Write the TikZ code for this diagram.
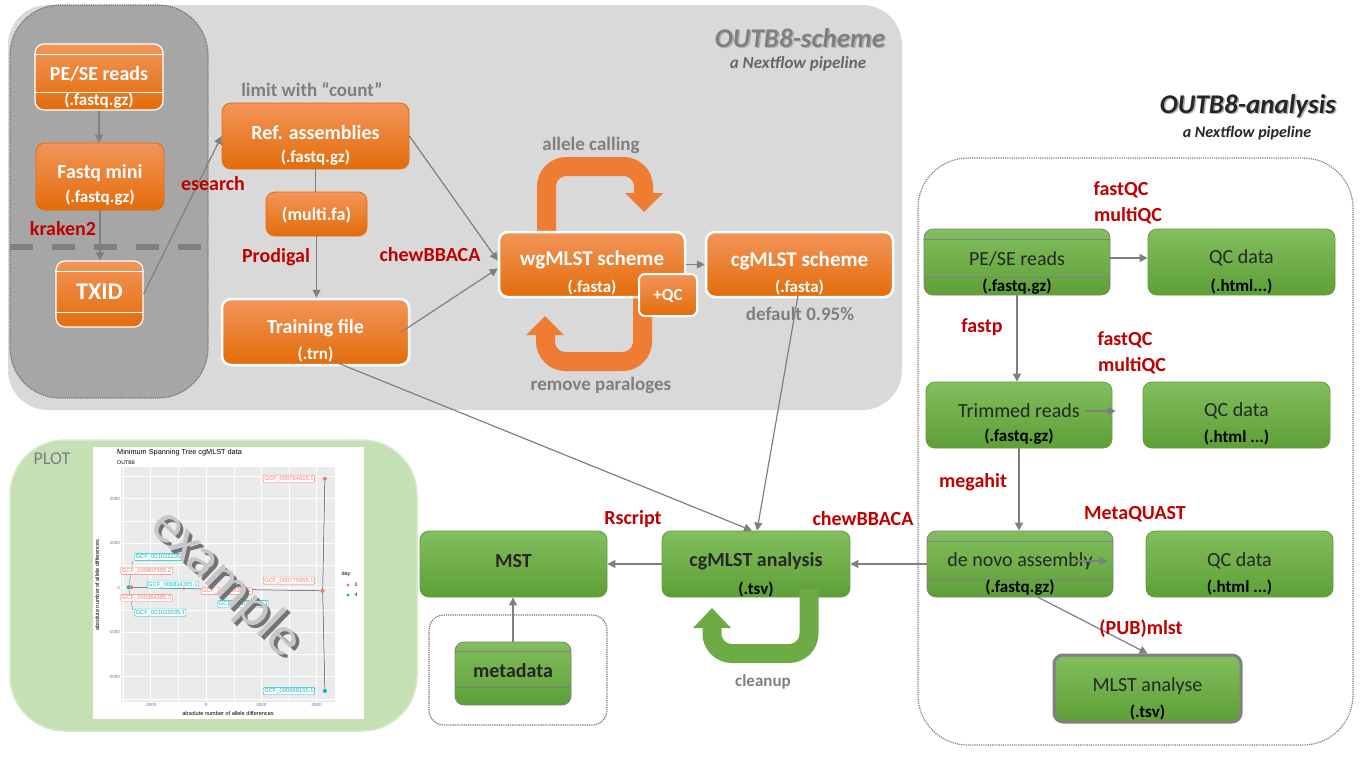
\documentclass[tikz,border=0pt]{standalone}
\usepackage{fontspec}
\setmainfont{Carlito}
\newfontfamily\ggfont{Liberation Sans}
\usetikzlibrary{arrows.meta}
\definecolor{orangetop}{HTML}{F2955A}
\definecolor{orangebot}{HTML}{E46C0A}
\definecolor{loopor}{HTML}{EE7D33}
\definecolor{greentop}{HTML}{82BE5E}
\definecolor{greenbot}{HTML}{5E9F36}
\definecolor{loopgr}{HTML}{6EAB45}
\definecolor{redlbl}{HTML}{C00000}
\definecolor{greylbl}{HTML}{7F7F7F}
\definecolor{panelgrey}{HTML}{D9D9D9}
\definecolor{darkpanel}{HTML}{A6A6A6}
\definecolor{plotgreen}{HTML}{C5E0B4}
\definecolor{ggpanel}{HTML}{EBEBEB}
\definecolor{ggred}{HTML}{F8766D}
\definecolor{ggteal}{HTML}{00BFC4}
\def\fs#1{\fontsize{#1}{#1}\selectfont}
\def\uturn[#1](#2)(#3)(#4)(#5){\draw[#1, line width=19pt, rounded corners=20pt] (#2) -- (#3) -- (#4) -- (#5);}

\tikzset{
	obox/.style={rectangle, rounded corners=9pt, top color=orangetop, bottom color=orangebot, draw=orangebot, line width=0.8pt},
	gbox/.style={rectangle, rounded corners=9pt, top color=greentop, bottom color=greenbot, draw=greenbot, line width=0.8pt},
	otxt/.style={text=white, font=\bfseries\fs{20}, inner sep=0pt},
	osub/.style={text=white, font=\bfseries\fs{17}, inner sep=0pt},
	gtxt/.style={text=black!85, font=\fs{20}, inner sep=0pt},
	gsub/.style={text=black, font=\bfseries\fs{17}, inner sep=0pt},
	tool/.style={text=redlbl, font=\bfseries\fs{20}, inner sep=0pt},
	note/.style={text=greylbl, font=\bfseries\fs{19}, inner sep=0pt},
	conn/.style={draw=greylbl, line width=1.2pt, -{Triangle[width=8pt,length=8pt]}},
	link/.style={draw=greylbl, line width=1.2pt},
	gglbl/.style={fill=white, draw, rounded corners=1pt, font=\ggfont\fs{5.8}, inner sep=1pt},
	ggtick/.style={text=black!55, font=\ggfont\fs{4.5}, inner sep=1pt}
}

\begin{document}
\begin{tikzpicture}[x=1pt, y=-1pt]
			%%%%% START %%%%%
			\useasboundingbox (0,0) rectangle (1361,756);
			
			\draw[fill=panelgrey, draw=none, rounded corners=40pt] (8,5) rectangle (902,410);
			\draw[fill=darkpanel, draw=black!55, densely dotted, line width=1.2pt, rounded corners=50pt] (10,5) rectangle (208,398);
			\draw[line width=6pt, color=greylbl, dash pattern=on 23pt off 19pt] (10,247) -- (202,247);
			\draw[fill=white, draw=black!50, densely dotted, line width=1.2pt, rounded corners=50pt] (918,158) rectangle (1353,745);
			\draw[fill=plotgreen, draw=plotgreen!70!white, line width=1.5pt, rounded corners=55pt] (10,440) rectangle (417,731);
			\draw[fill=white, draw=black!55, densely dotted, line width=1.2pt, rounded corners=15pt] (429,615) rectangle (607,725);
			
			\node[text=black!30, font=\bfseries\itshape\fs{27}] (sch-sh) at (801.5,39.5) {OUTB8-scheme};
			\node[text=greylbl, font=\bfseries\itshape\fs{27}] (sch) at (800,38) {OUTB8-scheme};
			\node[text=black!60, font=\bfseries\itshape\fs{17}] (sch-sub) at (798,64) {a Nextflow pipeline};
			\node[text=black!30, font=\bfseries\itshape\fs{27}] (ana-sh) at (1249.5,107.5) {OUTB8-analysis};
			\node[text=black!85, font=\bfseries\itshape\fs{27}] (ana) at (1248,106) {OUTB8-analysis};
			\node[text=black!85, font=\bfseries\itshape\fs{16}] (ana-sub) at (1247,133) {a Nextflow pipeline};
			
			% loops round the scheme
			\uturn[color=loopor](546.5,232)(546.5,166.5)(643.5,166.5)(643.5,194)
			\fill[loopor] (625,193) -- (663,193) -- (644,212) -- cycle;
			\uturn[color=loopor](642.5,297)(642.5,361.5)(545.5,361.5)(545.5,335)
			\fill[loopor] (526,335) -- (564,335) -- (545,316) -- cycle;
			
			% orange boxes
			\node[obox, draw=white, line width=1.2pt, minimum width=128, minimum height=66] (pese) at (99,77) {};
			\draw[white, line width=1pt] ([yshift=-11]pese.north west) -- ([yshift=-11]pese.north east);
			\draw[white, line width=1pt] ([yshift=18]pese.south west) -- ([yshift=18]pese.south east);
			\node[otxt] (pese-t) at (99,74) {PE/SE reads};
			\node[osub] (pese-s) at (99,101) {(.fastq.gz)};
			
			\node[obox, minimum width=128, minimum height=67] (fqmini) at (100,176.5) {};
			\node[otxt] (fqmini-t) at (100,173) {Fastq mini};
			\node[osub] (fqmini-s) at (100,198) {(.fastq.gz)};
			
			\node[obox, draw=white, line width=1.2pt, minimum width=87, minimum height=66] (txid) at (99.5,294) {};
			\draw[white, line width=1pt] ([yshift=-11]txid.north west) -- ([yshift=-11]txid.north east);
			\draw[white, line width=1pt] ([yshift=15]txid.south west) -- ([yshift=15]txid.south east);
			\node[otxt, font=\bfseries\fs{24}] (txid-t) at (99.5,292) {TXID};
			
			\node[obox, minimum width=187, minimum height=66] (ref) at (315.5,136) {};
			\node[otxt] (ref-t) at (315.5,133) {Ref. assemblies};
			\node[osub] (ref-s) at (315.5,158) {(.fastq.gz)};
			
			\node[obox, minimum width=101, minimum height=44] (multi) at (316.5,214) {};
			\node[osub, font=\bfseries\fs{18}] (multi-t) at (316.5,215) {(multi.fa)};
			
			\node[obox, draw=white, line width=2.5pt, minimum width=187, minimum height=66] (train) at (315.5,332) {};
			\node[otxt] (train-t) at (315.5,328) {Training file};
			\node[osub] (train-s) at (315.5,354) {(.trn)};
			
			\node[obox, draw=white, line width=2.5pt, minimum width=186, minimum height=65] (wg) at (592,264.5) {};
			\node[otxt, font=\bfseries\fs{21}] (wg-t) at (592,260) {wgMLST scheme};
			\node[osub] (wg-s) at (592,287) {(.fasta)};
			
			\node[obox, draw=white, line width=2pt, rounded corners=6pt, minimum width=58, minimum height=42] (qc) at (668,295) {};
			\node[osub] (qc-t) at (668,296) {+QC};
			
			\node[obox, draw=white, line width=2.5pt, minimum width=187, minimum height=65] (cgs) at (799.5,264.5) {};
			\node[otxt, font=\bfseries\fs{21}] (cgs-t) at (799.5,261) {cgMLST scheme};
			\node[osub] (cgs-s) at (799.5,287) {(.fasta)};
			
			% green boxes
			\node[gbox, draw=black!50, minimum width=186, minimum height=66] (rpese) at (1017,262) {};
			\draw[black!50, line width=0.8pt] ([yshift=-11]rpese.north west) -- ([yshift=-11]rpese.north east);
			\draw[black!50, line width=0.8pt] ([yshift=18]rpese.south west) -- ([yshift=18]rpese.south east);
			\node[gtxt] (rpese-t) at (1017,259) {PE/SE reads};
			\node[gsub] (rpese-s) at (1017,287) {(.fastq.gz)};
			
			\node[gbox, minimum width=187, minimum height=66] (qc1) at (1241.5,262) {};
			\node[gtxt] (qc1-t) at (1241.5,258) {QC data};
			\node[gsub] (qc1-s) at (1241.5,286) {(.html...)};
			
			\node[gbox, minimum width=186, minimum height=66] (trim) at (1019,415) {};
			\node[gtxt] (trim-t) at (1019,411) {Trimmed reads};
			\node[gsub] (trim-s) at (1019,437) {(.fastq.gz)};
			
			\node[gbox, minimum width=187, minimum height=66] (qc2) at (1236.5,415) {};
			\node[gtxt] (qc2-t) at (1236.5,411) {QC data};
			\node[gsub] (qc2-s) at (1236.5,437) {(.html ...)};
			
			\node[gbox, draw=black!50, minimum width=186, minimum height=66] (denovo) at (1020,564) {};
			\draw[black!50, line width=0.8pt] ([yshift=-11]denovo.north west) -- ([yshift=-11]denovo.north east);
			\draw[black!50, line width=0.8pt] ([yshift=18]denovo.south west) -- ([yshift=18]denovo.south east);
			\node[gtxt] (denovo-t) at (1020,561) {de novo assembly};
			\node[gsub] (denovo-s) at (1020,588) {(.fastq.gz)};
			
			\node[gbox, minimum width=187, minimum height=66] (qc3) at (1239.5,564) {};
			\node[gtxt] (qc3-t) at (1239.5,561) {QC data};
			\node[gsub] (qc3-s) at (1239.5,587) {(.html ...)};
			
			\node[gbox, draw=black!50, line width=3pt, minimum width=187, minimum height=67] (mlst) at (1147.5,688.5) {};
			\node[gtxt] (mlst-t) at (1147.5,686) {MLST analyse};
			\node[gsub] (mlst-s) at (1147.5,712) {(.tsv)};
			
			\node[gbox, minimum width=188, minimum height=66] (cganal) at (756,564) {};
			\node[gtxt, font=\bfseries\fs{20}] (cganal-t) at (756,561) {cgMLST analysis};
			\node[gsub] (cganal-s) at (756,589) {(.tsv)};
			
			\node[gbox, minimum width=187, minimum height=66] (mst) at (513.5,564) {};
			\node[gtxt, font=\bfseries\fs{20}] (mst-t) at (513.5,561) {MST};
			
			\node[gbox, draw=black!50, minimum width=116, minimum height=63] (meta) at (513,673.5) {};
			\draw[black!50, line width=0.8pt] ([yshift=-10]meta.north west) -- ([yshift=-10]meta.north east);
			\draw[black!50, line width=0.8pt] ([yshift=18]meta.south west) -- ([yshift=18]meta.south east);
			\node[gtxt, font=\bfseries\fs{20}] (meta-t) at (513,671) {metadata};
			
			\uturn[color=loopgr](809,589)(809,653.5)(712,653.5)(712,628)
			\fill[loopgr] (693,628) -- (731,628) -- (712,608) -- cycle;
			
			% connectors
			\draw[conn] (pese.south) -- (pese.south |- fqmini.north);
			\draw[conn] (fqmini.south) -- (fqmini.south |- txid.north);
			\draw[conn] (txid.east) -- (ref.west);
			\draw[link] (ref-s) -- (ref-s |- multi.north);
			\draw[conn] (multi.south) -- (multi.south |- train.north);
			\draw[conn] (ref.east) -- ([yshift=4]wg.west);
			\draw[conn] ([xshift=-9]train.east) -- ([yshift=-4]wg.west);
			\draw[conn] (wg.east) -- (cgs.west);
			\draw[conn] (train-s) -- ([xshift=-4]cganal.north);
			\draw[conn] (cgs-s) -- ([xshift=1]cganal.north);
			\draw[conn] (cganal.west) -- (mst.east);
			\draw[conn] (meta.north) -- (meta.north |- mst.south);
			\draw[conn] (denovo.west) -- (cganal.east);
			\draw[conn] ([yshift=4]rpese.east) -- ([yshift=4]rpese.east -| qc1.west);
			\draw[conn] (rpese.south) -- (rpese.south |- trim.north);
			\draw[conn] ([xshift=-27,yshift=4]trim.east) -- ([xshift=-27,yshift=4]trim.east -| qc2.west);
			\draw[conn] (trim.south) -- (trim.south |- denovo.north);
			\draw[conn] ([xshift=-38,yshift=3]denovo.east) -- ([xshift=-38,yshift=3]denovo.east -| qc3.west);
			\draw[conn] (denovo-s) -- (mlst.north);
			
			% tools and notes
			\node[tool] (kraken) at (63,229) {kraken2};
			\node[tool] (esearch) at (213,184) {esearch};
			\node[tool] (prodigal) at (276,257) {Prodigal};
			\node[tool] (chew1) at (430,255) {chewBBACA};
			\node[tool] (fastqc1) at (1121,190) {fastQC};
			\node[tool] (multiqc1) at (1128,216) {multiQC};
			\node[tool] (fastp) at (982,327) {fastp};
			\node[tool] (fastqc2) at (1125,340) {fastQC};
			\node[tool] (multiqc2) at (1132,366) {multiQC};
			\node[tool] (megahit) at (973,482) {megahit};
			\node[tool] (metaquast) at (1135,514) {MetaQUAST};
			\node[tool] (pubmlst) at (1141,629) {(PUB)mlst};
			\node[tool] (rscript) at (633,519) {Rscript};
			\node[tool] (chew2) at (863,519) {chewBBACA};
			
			\node[note] (limit) at (312,90) {limit with “count”};
			\node[note] (allele) at (591,145) {allele calling};
			\node[note] (paralog) at (601,385) {remove paraloges};
			\node[note] (default) at (800,314) {default 0.95\%};
			\node[note, font=\bfseries\fs{17}] (cleanup) at (763,682) {cleanup};
			\node[text=greylbl, font=\fs{18}] (plotlbl) at (52,459) {PLOT};
			
			% the plot
			\node[fill=white, inner sep=0pt, minimum width=271, minimum height=272] (plotimg) at (228.5,583) {};
			\node[anchor=west, inner sep=0pt, font=\ggfont\fs{7.3}] (pttl) at (117,453) {Minimum Spanning Tree cgMLST data};
			\node[anchor=west, inner sep=0pt, font=\ggfont\fs{5.3}] (psub) at (117,463) {OUTB8};
			\node[inner sep=0pt, font=\ggfont\fs{5.6}] (pxt) at (228,713) {absolute number of allele differences};
			\node[inner sep=0pt, rotate=90, font=\ggfont\fs{5.6}] (pyt) at (97,585) {absolute number of allele differences};
			\begin{scope}[shift={(206,587.7)}, x=0.02765pt, y=0.0445pt]
				\fill[ggpanel] (-3074,-2569) rectangle (4665,2712);
				\foreach \v in {-3000,-1000,1000,3000}
					\draw[white, line width=0.3pt] (\v,-2569) -- (\v,2712);
				\foreach \v in {-2500,-1500,-500,500,1500,2500}
					\draw[white, line width=0.3pt] (-3074,\v) -- (4665,\v);
				\foreach \v in {-2000,0,2000,4000}{
					\draw[white, line width=0.7pt] (\v,-2569) -- (\v,2712);
					\node[ggtick, anchor=north] (xt\v) at (\v,-2569) {\v};
				}
				\foreach \v in {-2000,-1000,0,1000,2000}{
					\draw[white, line width=0.7pt] (-3074,\v) -- (4665,\v);
					\node[ggtick, anchor=east] (yt\v) at (-3074,\v) {\v};
				}
				\coordinate (p1) at (4300,2450);
				\coordinate (p2) at (4220,-70);
				\coordinate (p3) at (4300,-2320);
				\coordinate (p4) at (-2800,10);
				\coordinate (p5) at (-2700,10);
				\coordinate (p6) at (-800,-20);
				\draw[black!70, line width=0.5pt] (p1) -- (p2) -- (p3);
				\draw[black!70, line width=0.5pt] (p4) -- (p6) -- (p2);
				\draw[black!60, line width=0.3pt] (p4) -- (-2650,600);
				\draw[black!60, line width=0.3pt] (p4) -- (-2650,-500);
				
				\node[gglbl, draw=ggred, text=ggred] (l1) at (3000,2450) {GCF\_000764615.1};
				\node[gglbl, draw=ggteal, text=ggteal] (l2) at (3000,-2320) {GCF\_000968155.1};
				\node[gglbl, draw=ggred, text=ggred] (l3) at (3000,160) {GCF\_000775955.1};
				\node[gglbl, draw=ggteal, text=ggteal] (l4) at (-1650,690) {GCF\_001022235.1};
				\node[gglbl, draw=ggred, text=ggred] (l5) at (-2150,380) {GCF\_000807395.2};
				\node[gglbl, draw=ggteal, text=ggteal] (l6) at (-1200,70) {GCF\_000814305.1};
				\node[gglbl, draw=ggred, text=ggred] (l7) at (-2150,-230) {GCF\_000364385.3};
				\node[gglbl, draw=ggteal, text=ggteal] (l8) at (-1650,-560) {GCF\_001022035.1};
				\node[gglbl, draw=ggred, text=ggred] (l9) at (750,-70) {GCF\_000739305.1};
				\node[gglbl, draw=ggteal, text=ggteal] (l10) at (1350,-370) {GCF\_001022115.1};
				\fill[ggred] (p1) circle (2pt);
				\fill[ggteal] (p3) circle (2pt);
				\fill[ggred] (p2) circle (2pt);
				\fill[ggteal] (p4) circle (2pt);
				\fill[ggred] (p5) circle (2pt);
				\fill[ggred] (p6) circle (1.5pt);
			\end{scope}
			\node[inner sep=0pt, font=\ggfont\fs{5.5}] (lgd) at (346,574) {day};
			\fill[ggred] (348,585) circle (1.6pt);
			\fill[ggteal] (348,595) circle (1.6pt);
			\node[inner sep=0pt, font=\ggfont\fs{5}] (lgd3) at (356,585) {3};
			\node[inner sep=0pt, font=\ggfont\fs{5}] (lgd4) at (356,595) {4};
			
			\node[rotate=-44, text=black!55, font=\fs{55}] (wm-sh) at (229.5,586.5) {example};
			\node[rotate=-44, text=black!22, font=\fs{55}] (wm) at (226,583) {example};
			
			%%%%% END %%%%%
\end{tikzpicture}
\end{document}
